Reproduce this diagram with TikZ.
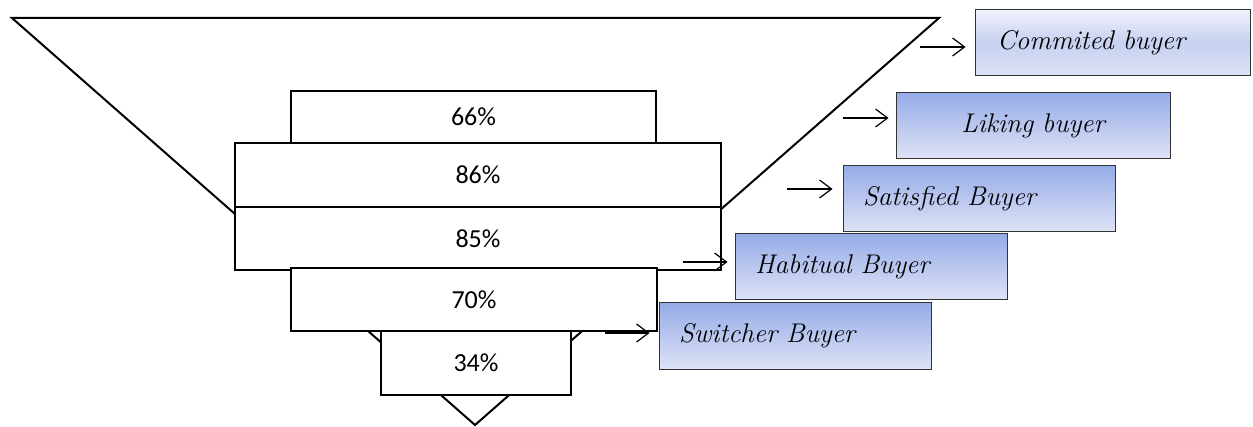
\documentclass[tikz,border=0pt]{standalone}
\usepackage{fontspec}
\usetikzlibrary{arrows.meta}
\newfontfamily\pctfont{Carlito}
\definecolor{buyertop}{RGB}{150,172,232}
\definecolor{buyerbot}{RGB}{222,227,246}
\definecolor{paletop}{RGB}{240,242,251}
\definecolor{palemid}{RGB}{198,208,240}
\tikzset{
  pctbox/.style={draw, line width=1pt, fill=white, inner sep=0pt, font=\pctfont\fontsize{13}{15}\selectfont},
  buyerbox/.style={draw=black!80, line width=0.5pt, top color=buyertop, bottom color=buyerbot,
    minimum height=#1, inner ysep=0pt, font=\itshape\fontsize{13.5}{15}\selectfont},
  flow/.style={-{Straight Barb[length=6pt,width=9pt]}, line width=0.6pt},
}
\begin{document}
\begin{tikzpicture}[x=0.5pt,y=-0.5pt]
\useasboundingbox (0,0) rectangle (1253,427);
% funnel
\draw[line width=1pt] (12,18) -- (939,18) -- (475,425) -- cycle;
% levels
\node[pctbox, minimum width=182.5pt, minimum height=26pt] (p66) at (473.5,117) {66\%};
\node[pctbox, minimum width=243pt, minimum height=32pt] (p86) at (478,175) {86\%};
\node[pctbox, minimum width=243pt, minimum height=31.5pt] (p85) at (478,238.5) {85\%};
\node[pctbox, minimum width=183pt, minimum height=31.5pt] (p70) at (474,299.5) {70\%};
\node[pctbox, minimum width=95pt, minimum height=32pt] (p34) at (476,363) {34\%};
% buyer types
\node[buyerbox=33pt, top color=paletop, bottom color=buyerbot, middle color=palemid,
  inner xsep=11pt, text width=115.5pt, align=left] (cb) at (1112.5,43) {Commited buyer};
\node[buyerbox=33pt, inner xsep=10pt, text width=117pt, align=center] (lb) at (1033,126) {Liking buyer};
\node[buyerbox=33pt, inner xsep=10pt, text width=116pt, align=left] (sb) at (979,199) {Satisfied Buyer};
\node[buyerbox=33pt, inner xsep=10pt, text width=116pt, align=left] (hb) at (871,267) {Habitual Buyer};
\node[buyerbox=33pt, inner xsep=10pt, text width=116pt, align=left] (swb) at (795,336) {Switcher Buyer};
% arrows
\coordinate (a1) at (920,47);
\coordinate (a2) at (843,118);
\coordinate (a3) at (787,189);
\coordinate (a4) at (683,262);
\coordinate (a5) at (605,333);
\draw[flow, shorten >=4.5pt] (a1) -- (a1 -| cb.west);
\draw[flow, shorten >=3.5pt] (a2) -- (a2 -| lb.west);
\draw[flow, shorten >=5pt] (a3) -- (a3 -| sb.west);
\draw[flow, shorten >=3.5pt] (a4) -- (a4 -| hb.west);
\draw[flow, shorten >=4.5pt] (a5) -- (a5 -| swb.west);
\end{tikzpicture}
\end{document}
